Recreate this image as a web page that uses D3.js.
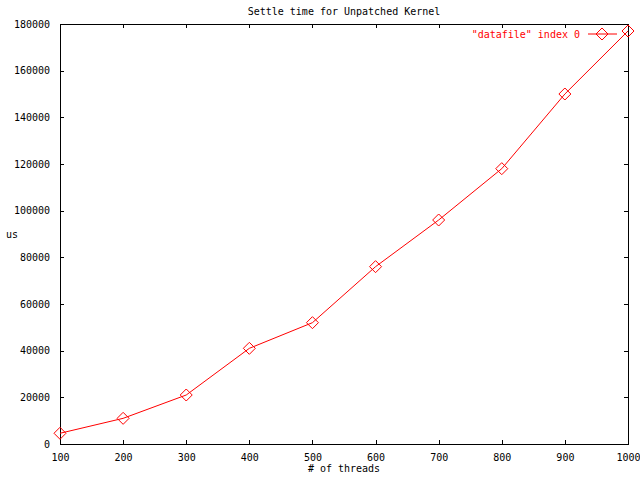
<!DOCTYPE html>
<html>
<head>
<meta charset="utf-8">
<script src="https://cdn.jsdelivr.net/npm/d3@7"></script>
<style>
  body { margin: 0; background: #fff; }
  svg text { font-family: "DejaVu Sans Mono", monospace; font-size: 10px; }
</style>
</head>
<body>
<svg id="chart" width="640" height="480"></svg>
<script>
// Data.
var threads = [100, 200, 300, 400, 500, 600, 700, 800, 900, 1000];
var settleUs = [4600, 11000, 21000, 41000, 52000, 76000, 96000, 118000, 150000, 177000];
var xTicks = [100, 200, 300, 400, 500, 600, 700, 800, 900, 1000];
var yTicks = [0, 20000, 40000, 60000, 80000, 100000, 120000, 140000, 160000, 180000];

var plotLeft = 60, plotRight = 628, plotTop = 24, plotBottom = 444;
var svg = d3.select('#chart');

var x = d3.scaleLinear().domain([100, 1000]).range([plotLeft, plotRight]);
var y = d3.scaleLinear().domain([0, 180000]).range([plotBottom, plotTop]);

// Axes: gnuplot-style inward ticks, mirrored on top and right.
var tickLen = 4;
svg.append('g').attr('transform', 'translate(0,' + plotBottom + ')')
  .call(d3.axisBottom(x).tickValues(xTicks).tickSizeInner(-tickLen).tickSizeOuter(0).tickPadding(10)
    .tickFormat(d3.format('d')));
svg.append('g').attr('transform', 'translate(0,' + plotTop + ')')
  .call(d3.axisTop(x).tickValues(xTicks).tickSizeInner(-tickLen).tickSizeOuter(0).tickFormat(''));
svg.append('g').attr('transform', 'translate(' + plotLeft + ',0)')
  .call(d3.axisLeft(y).tickValues(yTicks).tickSizeInner(-tickLen).tickSizeOuter(0).tickPadding(10)
    .tickFormat(d3.format('d')));
svg.append('g').attr('transform', 'translate(' + plotRight + ',0)')
  .call(d3.axisRight(y).tickValues(yTicks).tickSizeInner(-tickLen).tickSizeOuter(0).tickFormat(''));

svg.selectAll('.domain').remove();
svg.selectAll('.tick line').attr('stroke', '#000').attr('shape-rendering', 'crispEdges');
svg.selectAll('.tick text').attr('fill', '#000')
  .style('font-family', '"DejaVu Sans Mono", monospace').style('font-size', '10px');

svg.append('rect')
  .attr('x', plotLeft + 0.5).attr('y', plotTop + 0.5)
  .attr('width', plotRight - plotLeft).attr('height', plotBottom - plotTop)
  .attr('fill', 'none').attr('stroke', '#000').attr('shape-rendering', 'crispEdges');

// Titles
svg.append('text').attr('x', (plotLeft + plotRight) / 2).attr('y', 15)
  .attr('text-anchor', 'middle').text('Settle time for Unpatched Kernel');
svg.append('text').attr('x', (plotLeft + plotRight) / 2).attr('y', 472)
  .attr('text-anchor', 'middle').text('# of threads');
svg.append('text').attr('x', 12).attr('y', 238)
  .attr('text-anchor', 'middle').text('us');

// Series
var pts = threads.map(function(t, i) { return [t, settleUs[i]]; });
var line = d3.line().x(function(d) { return x(d[0]); }).y(function(d) { return y(d[1]); });
svg.append('path').datum(pts)
  .attr('d', line).attr('fill', 'none').attr('stroke', '#f00').attr('stroke-width', 1);

var diamond = 'M0,-6L6,0L0,6L-6,0Z';
svg.selectAll('.pt').data(pts).enter().append('path')
  .attr('class', 'pt')
  .attr('transform', function(d) { return 'translate(' + x(d[0]) + ',' + y(d[1]) + ')'; })
  .attr('d', diamond).attr('fill', 'none').attr('stroke', '#f00');

// Legend
var ly = 34;
svg.append('text').attr('x', 580).attr('y', ly + 3.5)
  .attr('text-anchor', 'end').attr('fill', '#f00').text('"datafile" index 0');
svg.append('line').attr('x1', 588).attr('x2', 617).attr('y1', ly).attr('y2', ly)
  .attr('stroke', '#f00');
svg.append('path').attr('transform', 'translate(602,' + ly + ')')
  .attr('d', diamond).attr('fill', 'none').attr('stroke', '#f00');
</script>
</body>
</html>
